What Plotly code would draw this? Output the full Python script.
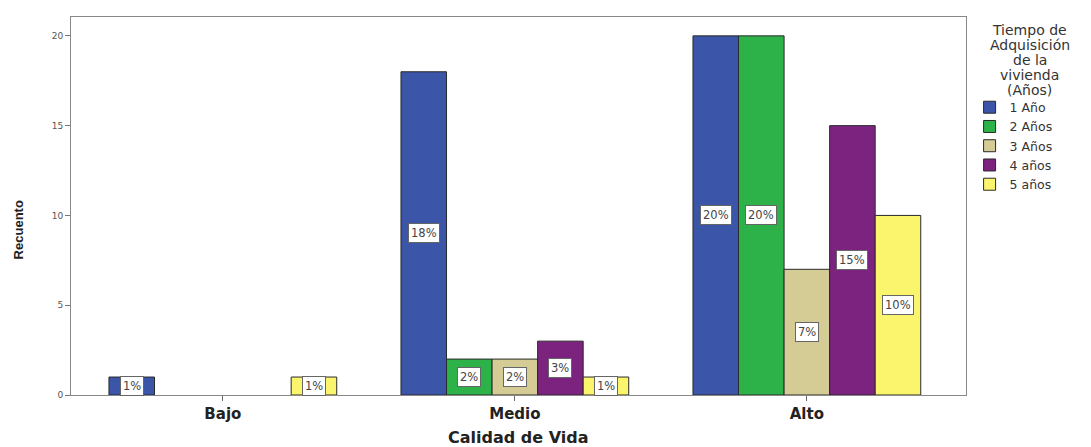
import plotly.graph_objects as go

categories = ["Bajo", "Medio", "Alto"]
series_names = ["1 Año", "2 Años", "3 Años", "4 años", "5 años"]
counts = {
    "1 Año": [1, 18, 20],
    "2 Años": [0, 2, 20],
    "3 Años": [0, 2, 7],
    "4 años": [0, 3, 15],
    "5 años": [1, 1, 10],
}
pct_labels = {
    "1 Año": ["1%", "18%", "20%"],
    "2 Años": ["", "2%", "20%"],
    "3 Años": ["", "2%", "7%"],
    "4 años": ["", "3%", "15%"],
    "5 años": ["1%", "1%", "10%"],
}
legend_title_lines = ["Tiempo de", "Adquisición", "de la", "vivienda", "(Años)"]
colors = ["#3b55a8", "#2db24a", "#d4cc94", "#7c2380", "#fbf56e"]
y_ticks = [0, 5, 10, 15, 20]

FONT = "DejaVu Sans, Liberation Sans, Arial, sans-serif"
bargap = 0.22
n = len(series_names)
bw = (1 - bargap) / n

fig = go.Figure()
annotations = []
for i, name in enumerate(series_names):
    fig.add_trace(go.Bar(
        x=list(range(len(categories))),
        y=[v if v > 0 else None for v in counts[name]], name=name,
        marker=dict(color=colors[i], line=dict(color="#2a2a2a", width=1)),
        hoverinfo="skip",
    ))
    off = -(1 - bargap) / 2 + (i + 0.5) * bw
    for j, v in enumerate(counts[name]):
        if v > 0:
            annotations.append(dict(
                x=j + off, y=v / 2, xref="x", yref="y", text=pct_labels[name][j],
                showarrow=False, bgcolor="white", bordercolor="#666", borderwidth=1,
                borderpad=2, font=dict(family=FONT, size=11.5, color="#444"),
            ))

for k, line in enumerate(legend_title_lines):
    annotations.append(dict(
        x=1.0715, y=1 - (13 + 15 * k) / 378, xref="paper", yref="paper",
        xanchor="center", yanchor="middle", text=line, showarrow=False,
        font=dict(family=FONT, size=14, color="#333"),
    ))
annotations.append(dict(
    x=0.5, y=-0.112, xref="paper", yref="paper", xanchor="center", yanchor="middle",
    text="<b>Calidad de Vida</b>", showarrow=False,
    font=dict(family=FONT, size=16, color="#222"),
))
annotations.append(dict(
    x=-0.059, y=0.436, xref="paper", yref="paper", xanchor="center", yanchor="middle",
    text="<b>Recuento</b>", showarrow=False, textangle=-90,
    font=dict(family="Liberation Sans Narrow, Arial Narrow, Liberation Sans", size=13, color="#222"),
))

fig.update_layout(
    width=1083, height=439,
    margin=dict(l=63, r=125, t=9, b=52),
    paper_bgcolor="white", plot_bgcolor="white",
    barmode="group", bargap=bargap, bargroupgap=0,
    annotations=annotations,
    legend=dict(
        x=1.004, y=0.8, xanchor="left", yanchor="top",
        font=dict(family=FONT, size=12.5, color="#333"),
        bgcolor="rgba(0,0,0,0)",
        tracegroupgap=0, itemwidth=30,
    ),
    showlegend=True,
)
fig.update_xaxes(
    tickmode="array", tickvals=list(range(len(categories))), ticktext=categories,
    range=[-0.52, 2.545], showline=True, linecolor="#888", linewidth=1, mirror=True,
    ticks="outside", ticklen=5, tickcolor="#666", showgrid=False, zeroline=False,
    tickfont=dict(family=FONT, size=15, color="#222", weight="bold"),
)
fig.update_yaxes(
    tickvals=y_ticks, range=[0, 21.05], showline=True, linecolor="#888", linewidth=1,
    mirror=True, ticks="outside", ticklen=5, tickcolor="#777", showgrid=False,
    zeroline=False, tickfont=dict(family=FONT, size=9, color="#555"),
)
fig.write_html("out.html")
